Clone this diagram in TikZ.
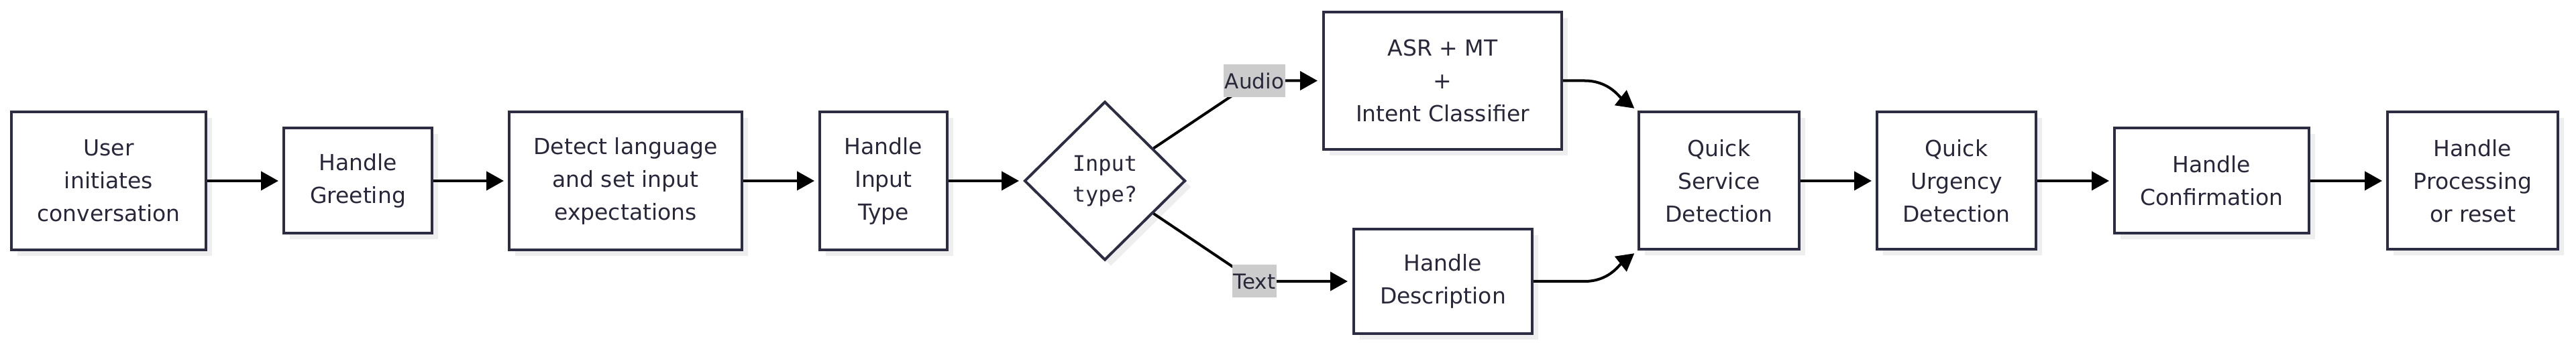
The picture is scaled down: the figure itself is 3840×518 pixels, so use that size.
\documentclass[tikz,border=0pt]{standalone}
\usepackage{fontspec}
\setmainfont{DejaVu Sans}
\newfontfamily\monof{DejaVu Sans Mono}
\usetikzlibrary{arrows.meta,shapes.geometric,shadows}
\definecolor{strokec}{RGB}{44,44,66}
\definecolor{txtc}{RGB}{40,40,58}
\definecolor{shadowc}{RGB}{238,238,238}
\definecolor{lblc}{RGB}{204,204,204}
\begin{document}
\begin{tikzpicture}[x=1pt,y=1pt,
  flowbox/.style={draw=strokec, line width=4pt, fill=white, inner sep=0pt, align=center, text=txtc,
    font=\fontsize{33}{49}\selectfont,
    drop shadow={shadow xshift=9pt, shadow yshift=-9pt, fill=shadowc, opacity=1}},
  decbox/.style={diamond, draw=strokec, line width=4pt, fill=white, inner sep=0pt, align=center, text=txtc,
    font=\monof\fontsize{32}{46}\selectfont, minimum width=240pt, minimum height=237pt,
    drop shadow={shadow xshift=9pt, shadow yshift=-9pt, fill=shadowc, opacity=1}},
  lbl/.style={fill=lblc, text=txtc, font=\fontsize{31}{49}\selectfont, inner xsep=2pt, inner ysep=0pt, minimum height=49pt},
  edge/.style={draw=black, line width=4pt, -{Triangle[length=26pt,width=28pt]}, shorten >=6pt}
]
\fill[white] (0,0) rectangle (3840,518);
\useasboundingbox (0,0) rectangle (3840,518);

\node[flowbox, minimum width=290pt, minimum height=206pt] (n1) at (162,248) {User\\initiates\\conversation};
\node[flowbox, minimum width=221pt, minimum height=157pt] (n2) at (533.5,248) {Handle\\Greeting};
\node[flowbox, minimum width=347pt, minimum height=206pt] (n3) at (932.5,248) {Detect language\\and set input\\expectations};
\node[flowbox, minimum width=190pt, minimum height=206pt] (n4) at (1317,248) {Handle\\Input\\Type};
\node[decbox] (d) at (1647,248) {Input\\type?};
\node[flowbox, minimum width=355pt, minimum height=205pt] (asr) at (2150.5,397.5) {ASR + MT\\+\\Intent Classifier};
\node[flowbox, minimum width=266pt, minimum height=156pt] (desc) at (2151,98) {Handle\\Description};
\node[flowbox, minimum width=239pt, minimum height=205pt] (qs) at (2562.5,248) {Quick\\Service\\Detection};
\node[flowbox, minimum width=237pt, minimum height=205pt] (qu) at (2916.5,248) {Quick\\Urgency\\Detection};
\node[flowbox, minimum width=290pt, minimum height=157pt] (conf) at (3297,248) {Handle\\Confirmation};
\node[flowbox, minimum width=254pt, minimum height=205pt] (proc) at (3686,248) {Handle\\Processing\\or reset};

\coordinate (ca) at (1870,397.5);
\coordinate (ct) at (1870,98);

\draw[edge] (n1) -- (n2);
\draw[edge] (n2) -- (n3);
\draw[edge] (n3) -- (n4);
\draw[edge] (n4) -- (d);
\draw[edge, shorten >=7pt] (d) -- (ca) -- (ca -| asr.west);
\draw[edge, shorten >=7pt] (d) -- (ct) -- (ct -| desc.west);
\draw[edge] (asr.east) -- ++(32,0) to[out=0,in=142] (qs.north west);
\draw[edge] (desc.east) -- ++(76,0) to[out=0,in=218] (qs.south west);
\draw[edge] (qs) -- (qu);
\draw[edge] (qu) -- (conf);
\draw[edge] (conf) -- (proc);

\node[lbl] (la) at (ca) {Audio};
\node[lbl] (lt) at (ct) {Text};
\end{tikzpicture}
\end{document}
